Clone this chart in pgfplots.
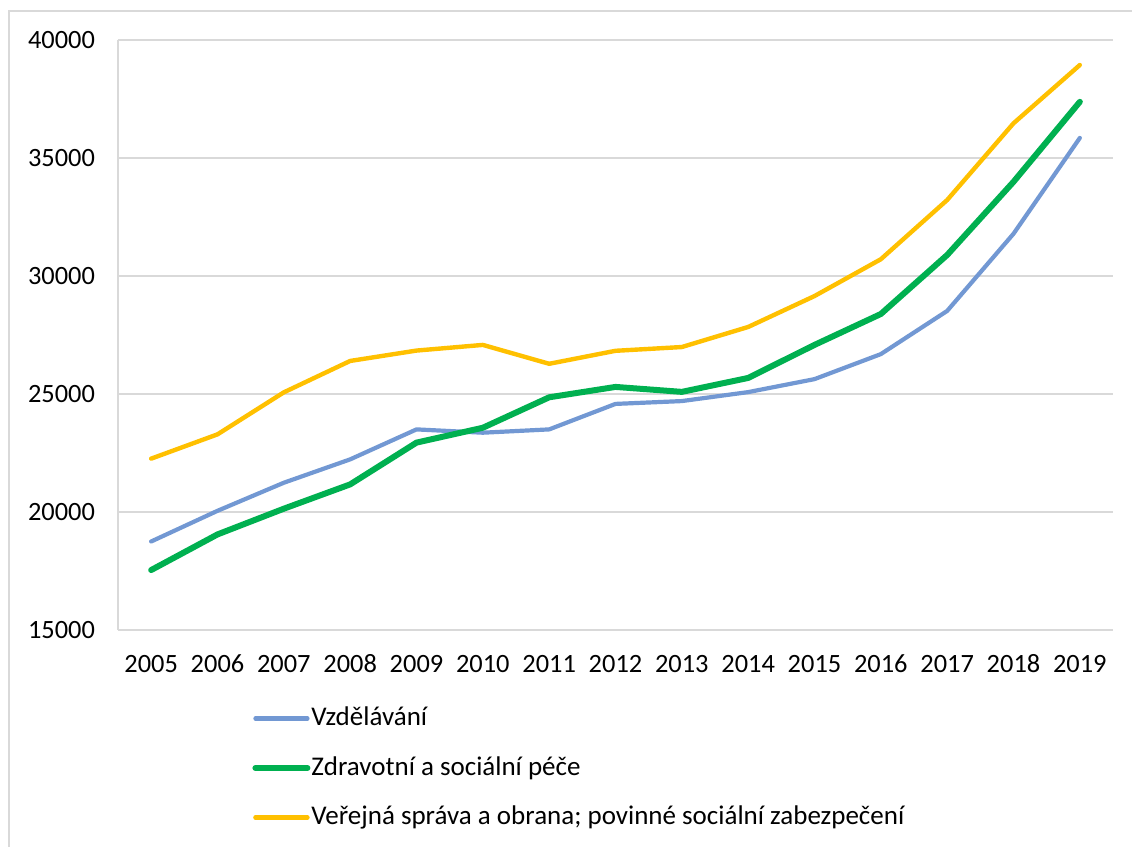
\documentclass[border=0pt]{standalone}
\usepackage{fontspec}
\setmainfont{Carlito}
\usepackage{pgfplots}
\pgfplotsset{compat=1.18}
\definecolor{eduBlue}{HTML}{7298D3}
\definecolor{healthGreen}{HTML}{00B050}
\definecolor{publicGold}{HTML}{FFC000}
\definecolor{gridGray}{HTML}{D9D9D9}
\newcommand\chartfont{\fontsize{13.2pt}{16pt}\selectfont}
\newcommand\legendfont{\fontsize{13.5pt}{16pt}\selectfont}
\begin{document}
\begin{tikzpicture}
\useasboundingbox (0,0) rectangle (566pt,423.5pt);
% chart area frame
\draw[gridGray, line width=0.9pt] (4.5pt,-20pt) rectangle (600pt,418pt);
\begin{axis}[
  at={(59pt,108.5pt)}, anchor=south west,
  scale only axis, width=497.5pt, height=295pt,
  xmin=-0.5, xmax=14.5, ymin=15000, ymax=40000,
  ytick={15000,20000,25000,30000,35000,40000},
  xtick={0,...,14},
  xticklabels={2005,2006,2007,2008,2009,2010,2011,2012,2013,2014,2015,2016,2017,2018,2019},
  scaled y ticks=false,
  /pgf/number format/.cd, 1000 sep={}, assume math mode=true, /pgfplots/.cd,
  ymajorgrids, grid style={gridGray, line width=0.75pt},
  axis x line*=bottom, axis y line*=left,
  x axis line style={draw=none},
  y axis line style={gridGray, line width=0.75pt},
  major tick length=0pt,
  tick label style={font=\chartfont, text=black},
  yticklabel style={xshift=-8pt},
  xticklabel style={anchor=base, yshift=-21.5pt},
  clip=false,
  legend cell align=left,
  legend image code/.code={\draw[#1, line cap=round] (0pt,0pt) -- (26pt,0pt);},
  legend style={at={(0.1347,-0.2339)}, anchor=west, draw=none, fill=none,
    font=\legendfont, inner sep=0pt, row sep=7.75pt,
    nodes={inner xsep=0.5pt, inner ysep=2pt, text height=10pt, text depth=3pt}},
  every axis plot/.append style={line cap=round, line join=round},
]
\addplot[eduBlue, line width=2.1pt] coordinates {
  (0,18750) (1,20050) (2,21240) (3,22230) (4,23500) (5,23360) (6,23500)
  (7,24580) (8,24700) (9,25080) (10,25630) (11,26690) (12,28520) (13,31790) (14,35850)};
\addlegendentry{Vzdělávání}
\addplot[healthGreen, line width=3pt] coordinates {
  (0,17540) (1,19050) (2,20140) (3,21170) (4,22940) (5,23570) (6,24860)
  (7,25300) (8,25090) (9,25680) (10,27080) (11,28390) (12,30890) (13,33990) (14,37380)};
\addlegendentry{Zdravotní a sociální péče}
\addplot[publicGold, line width=2.2pt] coordinates {
  (0,22260) (1,23290) (2,25070) (3,26400) (4,26840) (5,27080) (6,26280)
  (7,26830) (8,26990) (9,27840) (10,29150) (11,30710) (12,33220) (13,36470) (14,38940)};
\addlegendentry{Veřejná správa a obrana; povinné sociální zabezpečení}
\end{axis}
\end{tikzpicture}
\end{document}
